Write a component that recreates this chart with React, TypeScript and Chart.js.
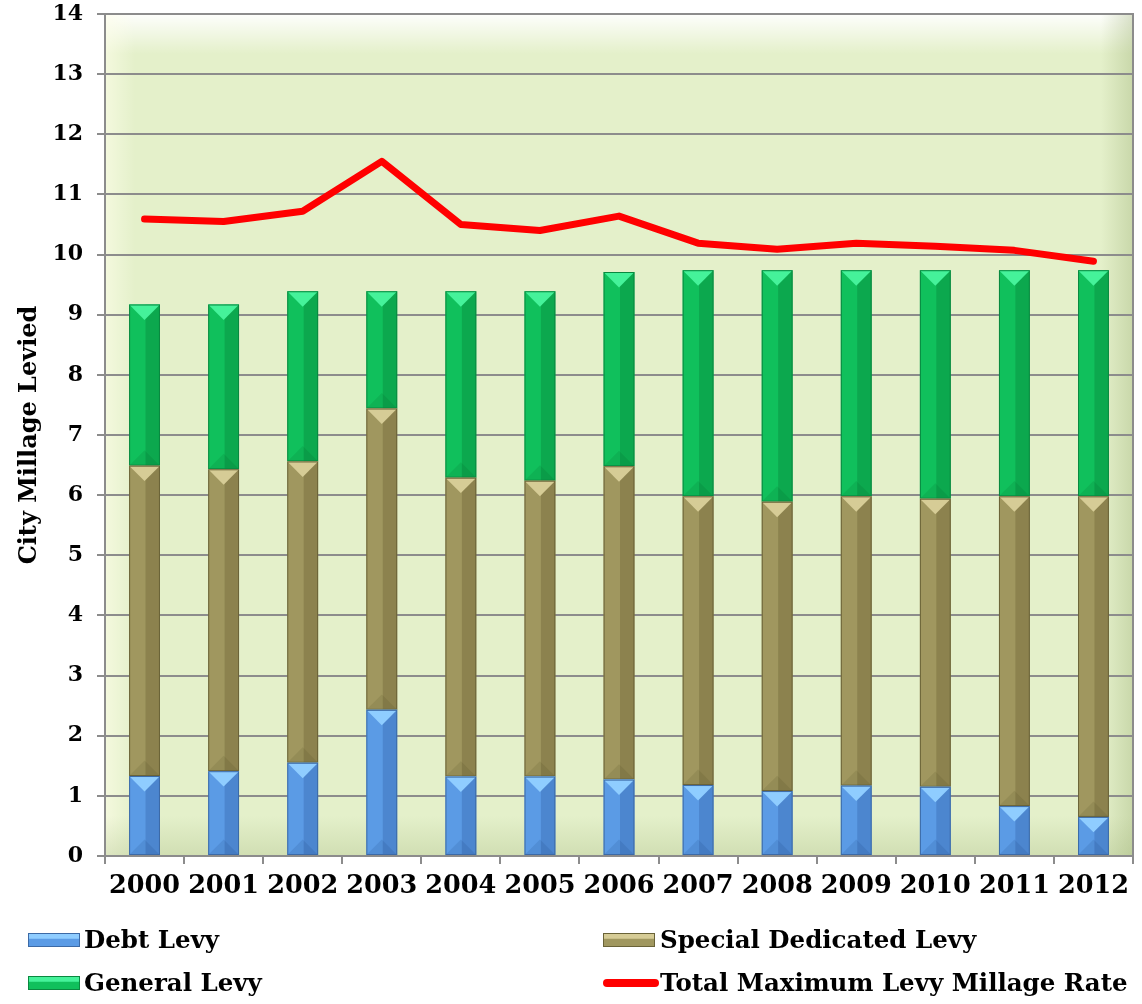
import React, { useEffect, useRef } from "react";
import { Chart, registerables } from "chart.js";

Chart.register(...registerables);

const years = ["2000", "2001", "2002", "2003", "2004", "2005", "2006", "2007", "2008", "2009", "2010", "2011", "2012"];
const debtLevy = [1.33, 1.41, 1.55, 2.43, 1.32, 1.32, 1.27, 1.18, 1.08, 1.17, 1.15, 0.83, 0.65];
const specialDedicatedLevy = [5.16, 5.02, 5.01, 5.01, 4.97, 4.92, 5.21, 4.8, 4.81, 4.81, 4.79, 5.15, 5.33];
const generalLevy = [2.68, 2.74, 2.83, 1.95, 3.1, 3.15, 3.23, 3.76, 3.85, 3.76, 3.8, 3.76, 3.76];
const totalMaxLevyRate = [10.59, 10.55, 10.72, 11.55, 10.5, 10.4, 10.64, 10.19, 10.09, 10.19, 10.14, 10.07, 9.89];

const FONT = "'DejaVu Serif', serif";

const bevels: Record<string, { light: string; dark: string; bottom: string; edge: string }> = {
  debt: { light: "#8fcdff", dark: "rgba(40,80,150,0.28)", bottom: "rgba(20,50,110,0.12)", edge: "#3c6aa6" },
  special: { light: "#d6cc96", dark: "rgba(70,60,20,0.22)", bottom: "rgba(50,45,10,0.10)", edge: "#6a6338" },
  general: { light: "#45f29a", dark: "rgba(0,80,30,0.22)", bottom: "rgba(0,60,20,0.10)", edge: "#0a8840" },
};

const bgPlugin = {
  id: "wallBg",
  beforeDraw(chart: any) {
    const { ctx, chartArea } = chart;
    const { left, top, right, bottom } = chartArea;
    const w = right - left;
    const h = bottom - top;
    ctx.save();
    ctx.fillStyle = "#e4f0ca";
    ctx.fillRect(left, top, w, h);
    let g = ctx.createLinearGradient(0, top, 0, top + 40);
    g.addColorStop(0, "rgba(255,255,255,0.95)");
    g.addColorStop(1, "rgba(255,255,255,0)");
    ctx.fillStyle = g;
    ctx.fillRect(left, top, w, 40);
    g = ctx.createLinearGradient(left, 0, left + 30, 0);
    g.addColorStop(0, "rgba(255,255,235,0.6)");
    g.addColorStop(1, "rgba(255,255,235,0)");
    ctx.fillStyle = g;
    ctx.fillRect(left, top, 30, h);
    g = ctx.createLinearGradient(right - 32, 0, right, 0);
    g.addColorStop(0, "rgba(150,170,110,0)");
    g.addColorStop(1, "rgba(150,170,110,0.35)");
    ctx.fillStyle = g;
    ctx.fillRect(right - 32, top, 32, h);
    g = ctx.createLinearGradient(0, bottom - 40, 0, bottom);
    g.addColorStop(0, "rgba(150,170,110,0)");
    g.addColorStop(1, "rgba(150,170,110,0.25)");
    ctx.fillStyle = g;
    ctx.fillRect(left, bottom - 40, w, 40);
    ctx.restore();
  },
  afterDraw(chart: any) {
    const { ctx, chartArea } = chart;
    ctx.save();
    ctx.strokeStyle = "#8c8c8c";
    ctx.lineWidth = 2;
    ctx.beginPath();
    ctx.moveTo(chartArea.left, chartArea.top);
    ctx.lineTo(chartArea.right, chartArea.top);
    ctx.lineTo(chartArea.right, chartArea.bottom);
    ctx.stroke();
    ctx.restore();
  },
};

const bevelPlugin = {
  id: "barBevel",
  afterDatasetDraw(chart: any, args: any) {
    const ds: any = chart.data.datasets[args.index];
    if (!ds.bevelKey) return;
    const bv = bevels[ds.bevelKey];
    const ctx = chart.ctx;
    args.meta.data.forEach((el: any) => {
      const p = el.getProps(["x", "y", "base", "width"], true);
      const l = p.x - p.width / 2;
      const r = p.x + p.width / 2;
      const t = Math.min(p.y, p.base);
      const b = Math.max(p.y, p.base);
      const h = b - t;
      const d = Math.min(p.width / 2, h / 2);
      ctx.save();
      ctx.fillStyle = bv.dark;
      ctx.fillRect(p.x + 1, t, r - p.x - 1, h);
      ctx.fillStyle = bv.bottom;
      ctx.beginPath();
      ctx.moveTo(l, b);
      ctx.lineTo(r, b);
      ctx.lineTo(p.x, b - d);
      ctx.closePath();
      ctx.fill();
      ctx.fillStyle = bv.light;
      ctx.beginPath();
      ctx.moveTo(l, t);
      ctx.lineTo(r, t);
      ctx.lineTo(p.x, t + d);
      ctx.closePath();
      ctx.fill();
      ctx.strokeStyle = bv.edge;
      ctx.lineWidth = 1;
      ctx.strokeRect(l + 0.5, t + 0.5, p.width - 1, h - 1);
      ctx.restore();
    });
  },
};

export default function App() {
  const ref = useRef<HTMLCanvasElement | null>(null);

  useEffect(() => {
    if (!ref.current) return;
    const chart = new Chart(ref.current, {
      type: "bar",
      data: {
        labels: years,
        datasets: [
          {
            type: "line",
            label: "Total Maximum Levy Millage Rate",
            data: totalMaxLevyRate,
            borderColor: "#ff0000",
            backgroundColor: "#ff0000",
            borderWidth: 7,
            pointRadius: 0,
            borderCapStyle: "round",
            borderJoinStyle: "round",
            tension: 0,
            stack: "total",
            order: 0,
          } as any,
          {
            label: "Debt Levy",
            data: debtLevy,
            backgroundColor: "#5b9be5",
            borderWidth: 0,
            stack: "levy",
            order: 1,
            bevelKey: "debt",
          } as any,
          {
            label: "Special Dedicated Levy",
            data: specialDedicatedLevy,
            backgroundColor: "#a0975f",
            borderWidth: 0,
            stack: "levy",
            order: 1,
            bevelKey: "special",
          } as any,
          {
            label: "General Levy",
            data: generalLevy,
            backgroundColor: "#10c05c",
            borderWidth: 0,
            stack: "levy",
            order: 1,
            bevelKey: "general",
          } as any,
        ],
      },
      options: {
        responsive: false,
        animation: false,
        devicePixelRatio: 1,
        layout: { padding: { top: 14, right: 9, left: 0, bottom: 0 } },
        datasets: { bar: { barPercentage: 0.39, categoryPercentage: 1 } },
        plugins: { legend: { display: false }, tooltip: { enabled: false } },
        scales: {
          x: {
            stacked: true,
            offset: true,
            grid: { display: true, drawOnChartArea: false, offset: true, color: "#8c8c8c", lineWidth: 2, tickLength: 8 },
            border: { color: "#8c8c8c", width: 2 },
            ticks: { color: "#000", font: { family: FONT, size: 25.5, weight: "bold" }, padding: 7, maxRotation: 0 },
            afterFit: (s: any) => {
              s.height = 148;
              s.paddingLeft = 0;
              s.paddingRight = 0;
              s.paddingTop = 0;
              s.paddingBottom = 0;
            },
          },
          y: {
            stacked: true,
            min: 0,
            max: 14,
            ticks: { stepSize: 1, color: "#000", font: { family: FONT, size: 22, weight: "bold" }, padding: 14 },
            grid: { color: "#8c8c8c", lineWidth: 2, tickLength: 8 },
            border: { color: "#8c8c8c", width: 2 },
            title: {
              display: true,
              text: "City Millage Levied",
              color: "#000",
              font: { family: FONT, size: 24, weight: "bold" },
              padding: { top: 15, bottom: 0 },
            },
            afterFit: (s: any) => {
              s.width = 105;
              s.paddingTop = 0;
              s.paddingBottom = 0;
              s.paddingLeft = 0;
              s.paddingRight = 0;
            },
          },
        },
      } as any,
      plugins: [bgPlugin, bevelPlugin],
    });
    return () => chart.destroy();
  }, []);

  const textStyle: React.CSSProperties = {
    position: "absolute",
    fontFamily: FONT,
    fontWeight: "bold",
    fontSize: 24.5,
    color: "#000",
    lineHeight: "28px",
    whiteSpace: "nowrap",
  };
  const box = (bg: string, light: string, edge: string, left: number, top: number): React.CSSProperties => ({
    position: "absolute",
    left,
    top,
    width: 52,
    height: 14,
    boxSizing: "border-box",
    border: `1px solid ${edge}`,
    background: `linear-gradient(to bottom, ${light} 0%, ${light} 35%, ${bg} 45%, ${bg} 100%)`,
  });

  return (
    <div style={{ position: "absolute", left: 0, top: 0, width: 1142, height: 1004, background: "#fff" }}>
      <canvas ref={ref} width={1142} height={1004} style={{ display: "block", width: 1142, height: 1004 }} />
      <div style={box("#5b9be5", "#8fcdff", "#3c6aa6", 28, 933)} />
      <div style={{ ...textStyle, left: 84, top: 926 }}>Debt Levy</div>
      <div style={box("#a0975f", "#d6cc96", "#6a6338", 603, 933)} />
      <div style={{ ...textStyle, left: 660, top: 926 }}>Special Dedicated Levy</div>
      <div style={box("#10c05c", "#45f29a", "#0a8840", 28, 976)} />
      <div style={{ ...textStyle, left: 84, top: 969 }}>General Levy</div>
      <div style={{ position: "absolute", left: 603, top: 979, width: 56, height: 8, borderRadius: 4, background: "#ff0000" }} />
      <div style={{ ...textStyle, left: 660, top: 969 }}>Total Maximum Levy Millage Rate</div>
    </div>
  );
}
